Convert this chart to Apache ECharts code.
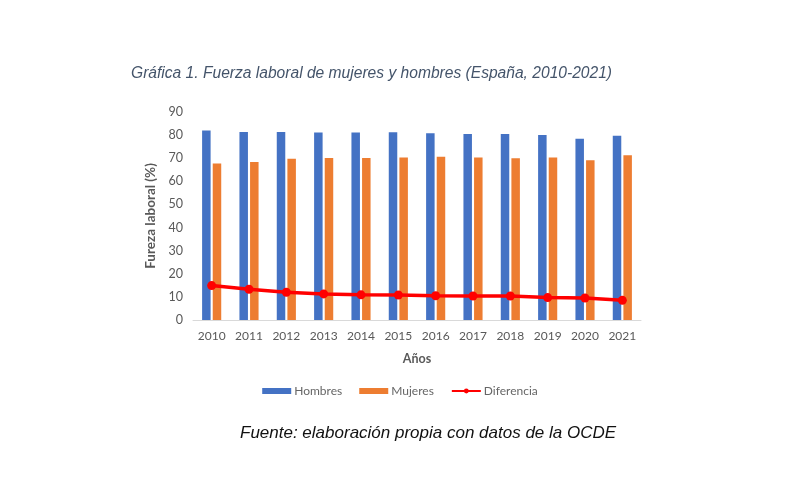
<!DOCTYPE html>
<html><head><meta charset="utf-8">
<script src="https://cdn.jsdelivr.net/npm/echarts@6/dist/echarts.min.js"></script>
<style>html,body{margin:0;padding:0;background:#fff}#c{width:800px;height:484px}</style>
</head><body><div id="c"></div>
<script>
const years = ['2010','2011','2012','2013','2014','2015','2016','2017','2018','2019','2020','2021'];
const hombres = [82.0, 81.4, 81.3, 81.1, 81.1, 81.2, 80.8, 80.5, 80.5, 80.1, 78.4, 79.7];
const mujeres = [67.7, 68.4, 69.8, 70.1, 70.1, 70.3, 70.6, 70.3, 70.0, 70.3, 69.1, 71.3];
const diferencia = [14.9, 13.3, 12.0, 11.3, 10.9, 10.8, 10.5, 10.4, 10.4, 9.7, 9.5, 8.5];
const yTicks = [0,10,20,30,40,50,60,70,80,90];

const chart = echarts.init(document.getElementById('c'), null, {renderer:'canvas'});
chart.setOption({
  animation:false,
  backgroundColor:'#fff',
  title:[
    {text:'Gráfica 1. Fuerza laboral de mujeres y hombres (España, 2010-2021)', left:126, top:61,
     textStyle:{fontFamily:'Liberation Sans', fontStyle:'italic', fontWeight:'normal', fontSize:15.6, color:'#44546a'}},
    {text:'Fuente: elaboración propia con datos de la OCDE', left:235, top:420,
     textStyle:{fontFamily:'Liberation Sans', fontStyle:'italic', fontWeight:'normal', fontSize:17, color:'#111'}}
  ],
  legend:{
    top:380, left:'center', itemGap:17, itemWidth:29, itemHeight:6,
    textStyle:{fontFamily:'Lato', fontSize:12, color:'#666', padding:[0,0,0,-2]},
    data:[{name:'Hombres', icon:'rect'},{name:'Mujeres', icon:'rect'},{name:'Diferencia'}]
  },
  grid:{left:193, right:159, top:112, bottom:164},
  xAxis:{
    type:'category', data:years,
    name:'Años', nameLocation:'middle', nameGap:32,
    nameTextStyle:{fontFamily:'Lato', fontWeight:'bold', fontSize:12.5, color:'#595959'},
    axisLine:{lineStyle:{color:'#d9d9d9'}}, axisTick:{show:false},
    axisLabel:{interval:0, fontFamily:'Lato', fontSize:12, color:'#595959', margin:10}
  },
  yAxis:{
    type:'value', min:0, max:90, interval:10,
    name:'Fureza laboral (%)', nameLocation:'middle', nameGap:31, nameRotate:90,
    nameTextStyle:{fontFamily:'Lato', fontWeight:'bold', fontSize:13.5, color:'#595959'},
    axisLine:{show:false}, axisTick:{show:false}, splitLine:{show:false},
    axisLabel:{fontFamily:'Lato', fontSize:12.5, color:'#595959', margin:10,
      formatter:v=>yTicks.includes(v)?String(v):''}
  },
  series:[
    {name:'Hombres', type:'bar', data:hombres, barWidth:8.5, barGap:'25%', itemStyle:{color:'#4472c4'}},
    {name:'Mujeres', type:'bar', data:mujeres, barWidth:8.5, itemStyle:{color:'#ed7d31'}},
    {name:'Diferencia', type:'line', data:diferencia, symbol:'circle', symbolSize:9,
     lineStyle:{color:'#ff0000', width:3.5}, itemStyle:{color:'#ff0000'}, z:5}
  ]
});
</script></body></html>
